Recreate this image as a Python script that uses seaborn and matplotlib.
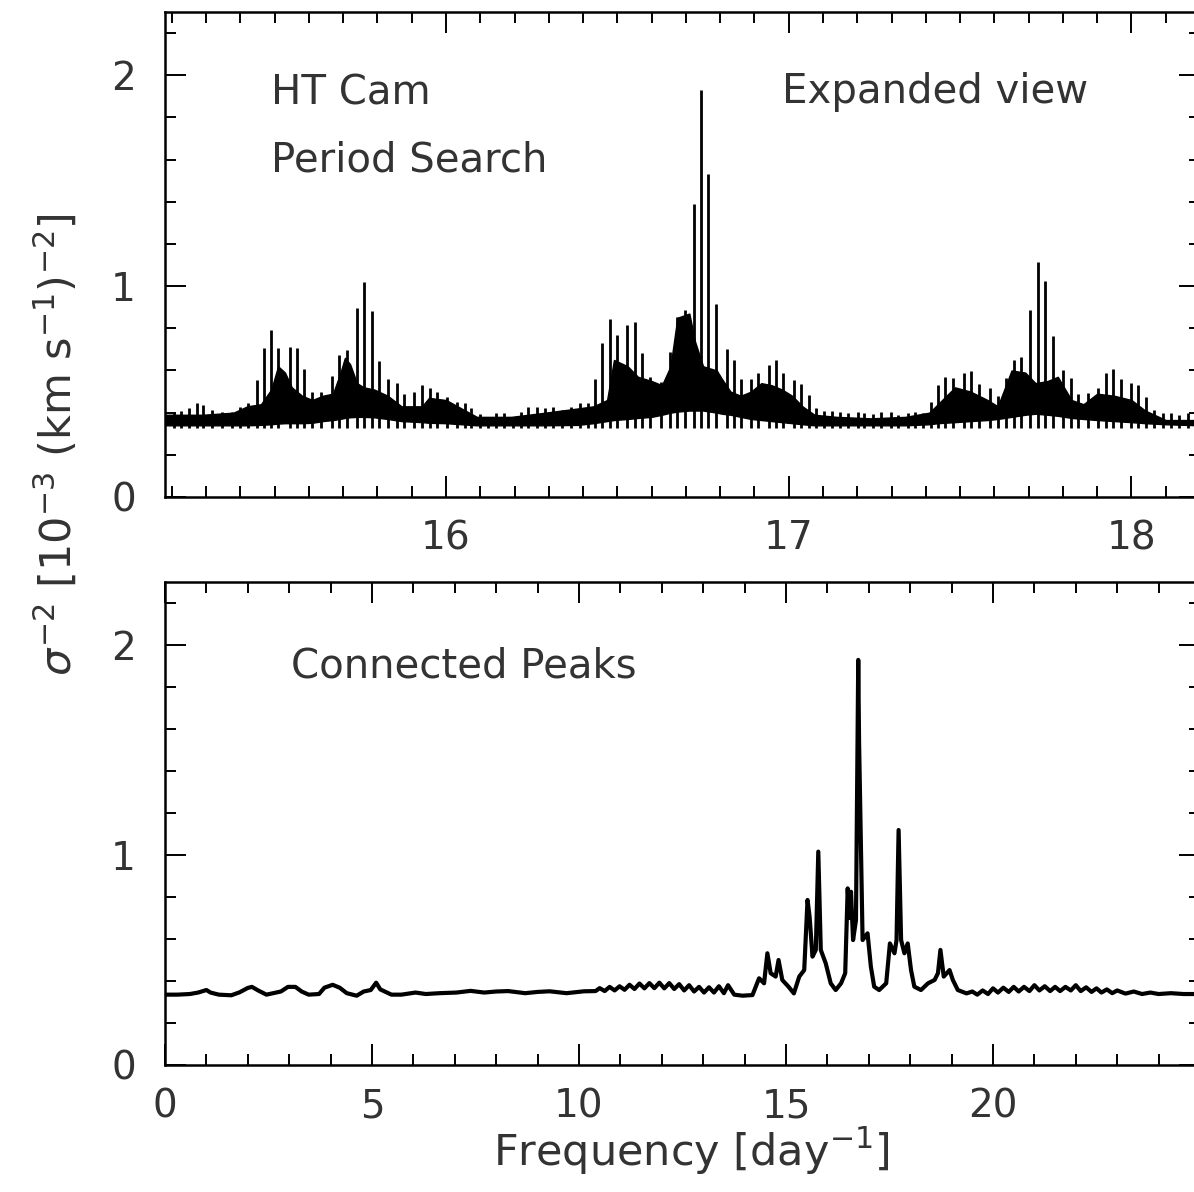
import numpy as np
import pandas as pd
import matplotlib
matplotlib.use("Agg")
import matplotlib.pyplot as plt
import seaborn as sns

# ---------------- data ----------------
# Top panel (expanded view): solid body of the periodogram
body_freq = [15.18, 15.29, 15.38, 15.42, 15.46, 15.49, 15.51, 15.53, 15.55, 15.58,
             15.61, 15.64, 15.67, 15.69, 15.705, 15.72, 15.74, 15.76, 15.79, 15.83,
             15.87, 15.93, 15.95, 16.0, 16.045, 16.09, 16.19, 16.29, 16.385, 16.43,
             16.47, 16.49, 16.53, 16.56, 16.60, 16.63, 16.655, 16.675, 16.71, 16.726,
             16.75, 16.79, 16.805, 16.83, 16.86, 16.89, 16.92, 16.95, 16.98, 17.01,
             17.04, 17.075, 17.14, 17.24, 17.34, 17.41, 17.435, 17.485, 17.53, 17.58,
             17.61, 17.65, 17.69, 17.72, 17.755, 17.785, 17.825, 17.86, 17.90, 17.95,
             18.0, 18.04, 18.1, 18.2]
body_high = [0.39, 0.39, 0.40, 0.43, 0.44, 0.51, 0.62, 0.59, 0.52, 0.48,
             0.46, 0.48, 0.49, 0.58, 0.66, 0.63, 0.54, 0.52, 0.51, 0.48,
             0.43, 0.43, 0.47, 0.46, 0.42, 0.38, 0.38, 0.40, 0.42, 0.43,
             0.46, 0.65, 0.62, 0.57, 0.55, 0.53, 0.62, 0.85, 0.87, 0.74,
             0.62, 0.60, 0.56, 0.50, 0.48, 0.50, 0.54, 0.53, 0.51, 0.48,
             0.43, 0.39, 0.38, 0.373, 0.38, 0.40, 0.44, 0.52, 0.50, 0.46,
             0.43, 0.60, 0.59, 0.54, 0.55, 0.57, 0.46, 0.44, 0.49, 0.48,
             0.46, 0.41, 0.365, 0.365]
body_low = [0.34, 0.34, 0.34, 0.34, 0.342, 0.345, 0.348, 0.35, 0.35, 0.35,
            0.352, 0.36, 0.365, 0.37, 0.375, 0.378, 0.38, 0.38, 0.378, 0.37,
            0.36, 0.355, 0.352, 0.35, 0.345, 0.34, 0.34, 0.34, 0.342, 0.35,
            0.36, 0.365, 0.37, 0.375, 0.38, 0.39, 0.40, 0.405, 0.41, 0.41,
            0.41, 0.40, 0.395, 0.39, 0.38, 0.37, 0.365, 0.36, 0.355, 0.35,
            0.345, 0.34, 0.34, 0.34, 0.34, 0.345, 0.35, 0.355, 0.36, 0.365,
            0.37, 0.38, 0.39, 0.395, 0.39, 0.385, 0.375, 0.37, 0.365, 0.36,
            0.355, 0.35, 0.345, 0.34]

# Top panel: individual alias spikes (frequency, peak height)
spike_freq = [15.207, 15.228, 15.25, 15.273, 15.292, 15.316, 15.345, 15.375, 15.399, 15.423,
              15.448, 15.469, 15.489, 15.511, 15.544, 15.565, 15.586, 15.608, 15.635, 15.666,
              15.688, 15.71, 15.739, 15.761, 15.783, 15.805, 15.831, 15.856, 15.878, 15.907,
              15.929, 15.953, 15.975, 16.004, 16.031, 16.055, 16.074, 16.099, 16.123, 16.147,
              16.17, 16.196, 16.22, 16.24, 16.264, 16.288, 16.312, 16.337, 16.366, 16.39,
              16.414, 16.434, 16.455, 16.478, 16.499, 16.529, 16.552, 16.573, 16.594, 16.628,
              16.653, 16.674, 16.696, 16.724, 16.743, 16.765, 16.787, 16.82, 16.841, 16.862,
              16.89, 16.91, 16.942, 16.963, 16.984, 17.016, 17.037, 17.059, 17.08, 17.104,
              17.127, 17.151, 17.172, 17.202, 17.221, 17.245, 17.27, 17.297, 17.32, 17.347,
              17.367, 17.391, 17.415, 17.436, 17.456, 17.479, 17.51, 17.532, 17.554, 17.586,
              17.61, 17.634, 17.657, 17.678, 17.705, 17.727, 17.748, 17.77, 17.799, 17.824,
              17.845, 17.872, 17.901, 17.926, 17.947, 17.97, 17.999, 18.02, 18.042, 18.067,
              18.091, 18.115, 18.14, 18.166, 18.19]
spike_height = [0.40, 0.41, 0.42, 0.444, 0.436, 0.413, 0.405, 0.405, 0.428, 0.444,
                0.555, 0.705, 0.79, 0.705, 0.71, 0.705, 0.605, 0.50, 0.50, 0.573,
                0.673, 0.697, 0.894, 1.02, 0.883, 0.645, 0.56, 0.539, 0.487, 0.50,
                0.531, 0.516, 0.50, 0.476, 0.452, 0.444, 0.42, 0.394, 0.381, 0.397,
                0.397, 0.381, 0.405, 0.428, 0.428, 0.42, 0.428, 0.413, 0.428, 0.444,
                0.444, 0.561, 0.728, 0.842, 0.768, 0.815, 0.828, 0.681, 0.57, 0.547,
                0.689, 0.852, 0.886, 1.39, 1.93, 1.53, 0.915, 0.70, 0.65, 0.56,
                0.56, 0.59, 0.625, 0.648, 0.59, 0.555, 0.538, 0.483, 0.42, 0.409,
                0.409, 0.405, 0.397, 0.405, 0.397, 0.394, 0.405, 0.405, 0.389, 0.40,
                0.405, 0.397, 0.452, 0.531, 0.57, 0.562, 0.589, 0.598, 0.536, 0.515,
                0.479, 0.562, 0.652, 0.665, 0.886, 1.115, 1.025, 0.763, 0.602, 0.562,
                0.488, 0.492, 0.515, 0.586, 0.605, 0.558, 0.54, 0.531, 0.476, 0.413,
                0.40, 0.397, 0.389, 0.397, 0.39]
comb_floor = 0.325

# Bottom panel: connected peaks over the full range
peaks_freq = [0.0, 0.3, 0.6, 0.8, 1.0, 1.1, 1.3, 1.6, 1.8, 2.0,
              2.1, 2.25, 2.45, 2.8, 2.97, 3.15, 3.3, 3.47, 3.72, 3.85,
              4.05, 4.22, 4.39, 4.63, 4.8, 4.97, 5.1, 5.2, 5.47, 5.71,
              6.05, 6.3, 6.63, 7.04, 7.38, 7.71, 8.0, 8.29, 8.7, 9.0,
              9.29, 9.7, 10.12, 10.4, 10.5, 10.62, 10.74, 10.86, 10.98, 11.1,
              11.22, 11.34, 11.46, 11.58, 11.7, 11.82, 11.94, 12.06, 12.18, 12.3,
              12.42, 12.54, 12.66, 12.78, 12.9, 13.02, 13.14, 13.26, 13.38, 13.5,
              13.6, 13.75, 13.95, 14.19, 14.35, 14.47, 14.55, 14.63, 14.75, 14.82,
              14.91, 15.06, 15.19, 15.32, 15.44, 15.52, 15.57, 15.64, 15.72, 15.78,
              15.84, 15.96, 16.08, 16.2, 16.33, 16.43, 16.49, 16.53, 16.57, 16.62,
              16.69, 16.745, 16.765, 16.85, 16.97, 17.05, 17.13, 17.25, 17.42, 17.51,
              17.62, 17.67, 17.72, 17.78, 17.86, 17.94, 18.02, 18.1, 18.26, 18.43,
              18.59, 18.67, 18.73, 18.81, 18.95, 19.03, 19.15, 19.36, 19.5, 19.62,
              19.75, 19.88, 20.0, 20.12, 20.25, 20.38, 20.5, 20.62, 20.75, 20.88,
              21.0, 21.12, 21.25, 21.38, 21.5, 21.62, 21.75, 21.88, 22.0, 22.12,
              22.25, 22.38, 22.5, 22.62, 22.75, 22.88, 23.0, 23.2, 23.4, 23.6,
              23.8, 24.0, 24.3, 24.6, 25.0]
peaks_power = [0.335, 0.335, 0.338, 0.345, 0.357, 0.345, 0.335, 0.332, 0.346, 0.367,
               0.372, 0.355, 0.335, 0.35, 0.372, 0.372, 0.35, 0.335, 0.338, 0.368,
               0.382, 0.368, 0.342, 0.330, 0.350, 0.357, 0.392, 0.36, 0.335, 0.335,
               0.345, 0.338, 0.342, 0.345, 0.353, 0.345, 0.35, 0.352, 0.342, 0.348,
               0.351, 0.342, 0.351, 0.352, 0.366, 0.352, 0.372, 0.355, 0.375, 0.358,
               0.382, 0.362, 0.388, 0.365, 0.39, 0.366, 0.392, 0.365, 0.39, 0.362,
               0.385, 0.355, 0.38, 0.35, 0.372, 0.345, 0.37, 0.345, 0.375, 0.342,
               0.38, 0.335, 0.33, 0.333, 0.413, 0.389, 0.532, 0.437, 0.421, 0.50,
               0.405, 0.373, 0.341, 0.421, 0.452, 0.786, 0.706, 0.516, 0.548, 1.016,
               0.548, 0.484, 0.389, 0.357, 0.389, 0.437, 0.841, 0.70, 0.825, 0.595,
               0.69, 1.929, 1.54, 0.595, 0.627, 0.468, 0.373, 0.357, 0.389, 0.579,
               0.532, 0.595, 1.119, 0.595, 0.532, 0.579, 0.452, 0.373, 0.357, 0.389,
               0.405, 0.437, 0.548, 0.421, 0.452, 0.405, 0.357, 0.341, 0.35, 0.335,
               0.355, 0.338, 0.365, 0.345, 0.368, 0.348, 0.372, 0.35, 0.372, 0.352,
               0.38, 0.355, 0.375, 0.352, 0.372, 0.352, 0.372, 0.355, 0.38, 0.352,
               0.37, 0.348, 0.365, 0.345, 0.36, 0.342, 0.355, 0.34, 0.35, 0.338,
               0.345, 0.338, 0.342, 0.338, 0.338]

top_xticks = [16, 17, 18]
bottom_xticks = [0, 5, 10, 15, 20]
yticks = [0, 1, 2]

# ---------------- figure ----------------
sns.set_theme(style="ticks")
plt.rcParams["font.family"] = ["DejaVu Sans"]
plt.rcParams["mathtext.fontset"] = "dejavusans"

W, H = 1194, 1192
fig = plt.figure(figsize=(W / 100, H / 100), dpi=100)
fig.patch.set_facecolor("white")
ax1 = fig.add_axes([165 / W, 1 - 497 / H, (1200 - 165) / W, 485 / H])
ax2 = fig.add_axes([165 / W, 1 - 1065 / H, (1200 - 165) / W, 483 / H])

ink = "black"
txt = "#333333"
FS = 29

# top panel marks
ax1.fill_between(body_freq, body_low, body_high, color=ink, lw=1.0, edgecolor=ink)
ax1.vlines(spike_freq, comb_floor, spike_height, color=ink, lw=2.0)

# bottom panel curve
df = pd.DataFrame({"freq": peaks_freq, "power": peaks_power})
sns.lineplot(data=df, x="freq", y="power", ax=ax2, color=ink, lw=3.0,
             sort=False, estimator=None)

ax1.set_xlim(15.18, 18.2)
ax2.set_xlim(0, 25)
ax1.set_xticks(top_xticks)
ax1.set_xticks(np.arange(15.2, 18.21, 0.1), minor=True)
ax2.set_xticks(bottom_xticks)
ax2.set_xticks(np.arange(0, 25.01, 1), minor=True)
for ax in (ax1, ax2):
    ax.set_ylim(0, 2.3)
    ax.set_facecolor("white")
    ax.set_xlabel("")
    ax.set_ylabel("")
    for s in ax.spines.values():
        s.set_linewidth(1.8)
        s.set_color(ink)
        s.set_visible(True)
    ax.set_yticks(yticks)
    ax.set_yticks(np.arange(0, 2.31, 0.2), minor=True)
    ax.tick_params(which="both", direction="in", top=True, right=True,
                   color=ink, width=1.4)
    ax.tick_params(which="major", length=15, labelsize=28, labelcolor=txt)
    ax.tick_params(which="minor", length=8)
    ax.tick_params(axis="x", which="major", pad=16)
    ax.tick_params(axis="y", which="major", pad=21)

# texts
kw = dict(fontsize=FS, color=txt, ha="left", va="baseline")
ax1.text(0.102, 0.81, "HT Cam", transform=ax1.transAxes, **kw)
ax1.text(0.102, 0.672, "Period Search", transform=ax1.transAxes, **kw)
ax1.text(0.596, 0.812, "Expanded view", transform=ax1.transAxes, **kw)
ax2.text(0.122, 0.803, "Connected Peaks", transform=ax2.transAxes, **kw)

fig.text(691 / W, 1 - 1166 / H, r"Frequency [day$^{-1}$]", fontsize=31,
         color=txt, ha="center", va="baseline")
fig.text(57 / W, 1 - 445 / H,
         r"$\sigma^{-2}$ [10$^{-3}$ (km s$^{-1}$)$^{-2}$]",
         fontsize=31, color=txt, ha="center", va="center", rotation=90)

fig.savefig("out.png", dpi=100, facecolor="white")
